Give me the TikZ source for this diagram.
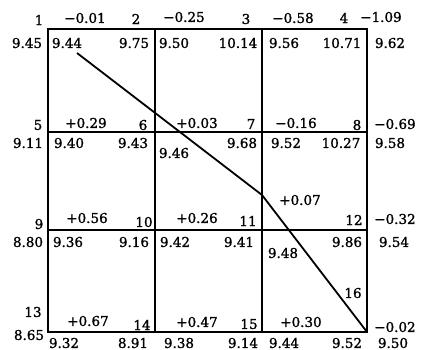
\documentclass[tikz,border=0pt]{standalone}
\usepackage{fontspec}
\setmainfont{DejaVu Serif}[FakeBold=1.3]
\begin{document}
\begin{tikzpicture}[x=1pt,y=-1pt,font=\fontsize{13.5}{15}\selectfont,
    grid/.style={draw=black,line width=2pt},
    lbl/.style={inner sep=0pt,anchor=center}]
  \useasboundingbox (0,0) rectangle (421,350);
  % cells
  \draw[grid] (48,29) rectangle (367,332);
  \draw[grid] (155,29) -- (155,332) (262,29) -- (262,332)
    (48,132) -- (367,132) (48,230) -- (367,230);
  % row of points 1-4
  \node[lbl] (p1) at (39,20) {1};
  \node[lbl] (d1) at (85,18) {−0.01};
  \node[lbl] (p2) at (136,19) {2};
  \node[lbl] (d2) at (184,17) {−0.25};
  \node[lbl] (p3) at (246,19) {3};
  \node[lbl] (d3) at (293,18) {−0.58};
  \node[lbl] (p4) at (344,18) {4};
  \node[lbl] (d4) at (381,17) {−1.09};
  \node[lbl] (h1) at (27,43) {9.45};
  \node[lbl] (a1) at (67,43) {9.44};
  \node[lbl] (b1) at (134,43) {9.75};
  \node[lbl] (a2) at (174,43) {9.50};
  \node[lbl] (b2) at (238,43) {10.14};
  \node[lbl] (a3) at (284,43) {9.56};
  \node[lbl] (b3) at (342,43) {10.71};
  \node[lbl] (h4) at (390,43) {9.62};
  % row of points 5-8
  \node[lbl] (p5) at (38,125) {5};
  \node[lbl] (d5) at (86,123) {+0.29};
  \node[lbl] (p6) at (143,125) {6};
  \node[lbl] (d6) at (197,123) {+0.03};
  \node[lbl] (p7) at (251,124) {7};
  \node[lbl] (d7) at (296,123) {−0.16};
  \node[lbl] (p8) at (357,125) {8};
  \node[lbl] (d8) at (395,124) {−0.69};
  \node[lbl] (h5) at (28,143) {9.11};
  \node[lbl] (a5) at (69,143) {9.40};
  \node[lbl] (b5) at (133,143) {9.43};
  \node[lbl] (a6) at (174,153) {9.46};
  \node[lbl] (b6) at (242,143) {9.68};
  \node[lbl] (a7) at (286,143) {9.52};
  \node[lbl] (b7) at (341,143) {10.27};
  \node[lbl] (h8) at (390,143) {9.58};
  \node[lbl] (d11) at (300,200) {+0.07};
  % row of points 9-12
  \node[lbl] (p9) at (39,224) {9};
  \node[lbl] (d9) at (87,218) {+0.56};
  \node[lbl] (p10) at (144,222) {10};
  \node[lbl] (d10) at (197,218) {+0.26};
  \node[lbl] (p11) at (248,221) {11};
  \node[lbl] (p12) at (354,220) {12};
  \node[lbl] (d12) at (395,219) {−0.32};
  \node[lbl] (h9) at (28,242) {8.80};
  \node[lbl] (a9) at (68,242) {9.36};
  \node[lbl] (b9) at (134,242) {9.16};
  \node[lbl] (a10) at (175,242) {9.42};
  \node[lbl] (b10) at (239,242) {9.41};
  \node[lbl] (a11) at (283,253) {9.48};
  \node[lbl] (b11) at (347,242) {9.86};
  \node[lbl] (h12) at (394,242) {9.54};
  \node[lbl] (p16) at (353,293) {16};
  % row of points 13-16
  \node[lbl] (p13) at (33,312) {13};
  \node[lbl] (d13) at (88,321) {+0.67};
  \node[lbl] (p14) at (142,325) {14};
  \node[lbl] (d14) at (197,322) {+0.47};
  \node[lbl] (p15) at (249,324) {15};
  \node[lbl] (d15) at (301,322) {+0.30};
  \node[lbl] (d16) at (395,327) {−0.02};
  \node[lbl] (h13) at (29,335) {8.65};
  \node[lbl] (a13) at (64,343) {9.32};
  \node[lbl] (b13) at (133,343) {8.91};
  \node[lbl] (a14) at (179,343) {9.38};
  \node[lbl] (b14) at (243,343) {9.14};
  \node[lbl] (a15) at (284,343) {9.44};
  \node[lbl] (b15) at (347,343) {9.52};
  \node[lbl] (h16) at (393,343) {9.50};
  % profile line
  \coordinate (s) at (77,53);
  \coordinate (k) at (262,195);
  \coordinate (e) at (367,332);
  \draw[line width=1.8pt] (s) -- (k) -- (e);
\end{tikzpicture}
\end{document}
